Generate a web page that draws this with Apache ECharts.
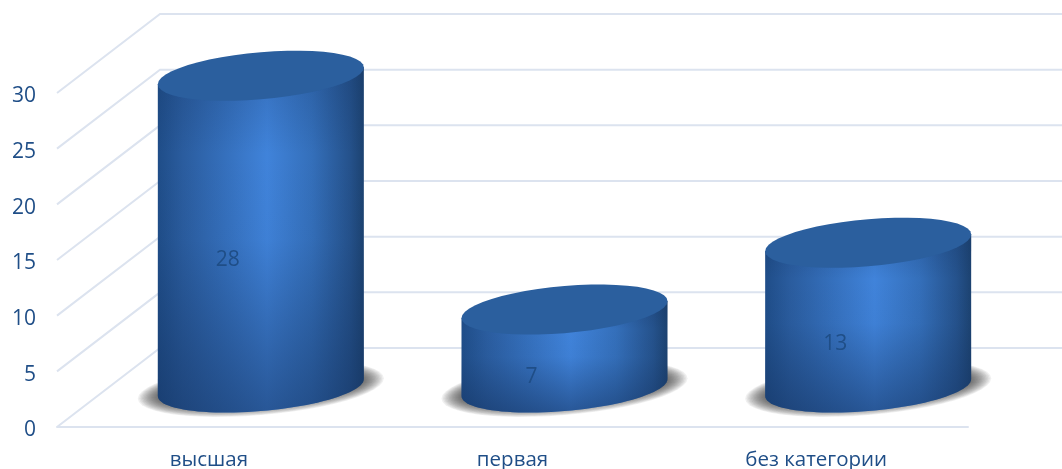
<!DOCTYPE html>
<html><head><meta charset="utf-8">
<style>html,body{margin:0;padding:0;background:#fff}#c{width:1062px;height:469px}</style>
<script src="https://cdn.jsdelivr.net/npm/echarts@6/dist/echarts.min.js"></script>
</head><body><div id="c"></div>
<script>
const categories = ['высшая', 'первая', 'без категории'];
const values = [28, 7, 13];
const yTicks = [0, 5, 10, 15, 20, 25, 30];

const FONT = '"Open Sans", sans-serif';
const TEXT = '#1f4e87';
const GRID = '#dce3ef';
const DEPTH_X = 103, DEPTH_Y = 79;   // oblique depth of the chart box
const A = 103, B = 23.6, TILT = 8.5; // cylinder ellipse
const N = 48;

function arc(cx, cy, a, b, t0, t1) {
  const pts = [];
  for (let i = 0; i <= N; i++) {
    const t = t0 + (t1 - t0) * i / N;
    const ax = a * Math.cos(t);
    pts.push([cx + ax, cy - TILT * (a / A) * Math.cos(t) + b * Math.sin(t)]);
  }
  return pts;
}

function renderGrid(params, api) {
  const v = api.value(0);
  const cs = params.coordSys;
  const y = api.coord([0, v])[1];
  return {
    type: 'polyline',
    shape: { points: [[cs.x, y], [cs.x + DEPTH_X, y - DEPTH_Y], [1070, y - DEPTH_Y]] },
    style: { stroke: GRID, lineWidth: 2, fill: null },
    silent: true
  };
}

function renderCyl(params, api) {
  const i = api.value(0), v = api.value(1);
  const base = api.coord([i, 0]), top = api.coord([i, v]);
  const cx = base[0] + DEPTH_X / 2 + 0.5;
  const by = base[1] - DEPTH_Y / 2;
  const ty = top[1] - DEPTH_Y / 2;
  const body = [...arc(cx, ty, A, B, Math.PI, Math.PI), ...arc(cx, ty, A, B, 0, 0), ...arc(cx, by, A, B, 0, Math.PI)];
  const topEll = arc(cx, ty, A, B, 0, Math.PI * 2);
  const shadows = [];
  for (let k = 0; k < 14; k++) {
    shadows.push({ type: 'polygon',
      shape: { points: arc(cx, by + 1, A + 20 - k * 1.45, B + 3 - k * 0.7, 0, Math.PI * 2) },
      style: { fill: 'rgba(50,50,50,0.075)' } });
  }
  return {
    type: 'group',
    children: [
      ...shadows,
      { type: 'polygon', shape: { points: body },
        style: { fill: { type: 'linear', x: 0, y: 0, x2: 1, y2: 0, colorStops: [
          { offset: 0, color: '#1f4d88' }, { offset: 0.12, color: '#2a5c9e' },
          { offset: 0.33, color: '#3570bd' }, { offset: 0.53, color: '#4083da' },
          { offset: 0.75, color: '#346fba' }, { offset: 0.93, color: '#25528c' },
          { offset: 1, color: '#1c4270' } ] } } },
      { type: 'polygon', shape: { points: body },
        style: { fill: { type: 'linear', x: 0, y: 0, x2: 0, y2: 1, colorStops: [
          { offset: 0, color: 'rgba(20,50,95,0.25)' }, { offset: 0.25, color: 'rgba(20,50,95,0)' },
          { offset: 0.5, color: 'rgba(20,50,95,0.04)' }, { offset: 1, color: 'rgba(20,50,95,0.55)' } ] } } },
      { type: 'polygon', shape: { points: topEll }, style: { fill: '#2b5f9e' } },
      { type: 'text', style: {
          text: String(v), x: base[0] + 19, y: (base[1] + top[1]) / 2 - 11,
          fill: TEXT, font: '21px ' + FONT, align: 'center', verticalAlign: 'middle' } }
    ]
  };
}

const chart = echarts.init(document.getElementById('c'), null, { renderer: 'canvas' });
chart.setOption({
  animation: false,
  backgroundColor: '#fff',
  grid: { left: 57, right: 94, top: 93, bottom: 42, outerBoundsMode: 'none' },
  xAxis: {
    type: 'category', data: categories,
    axisLine: { show: true, lineStyle: { color: GRID, width: 2 } },
    axisTick: { show: false },
    axisLabel: { color: TEXT, fontFamily: FONT, fontSize: 20.5, margin: 23 }
  },
  yAxis: {
    type: 'value', min: 0, max: 30, interval: 5,
    axisLine: { show: false }, axisTick: { show: false }, splitLine: { show: false },
    axisLabel: { color: TEXT, fontFamily: FONT, fontSize: 21, margin: 21, verticalAlign: 'top', lineHeight: 7 }
  },
  series: [
    { type: 'custom', renderItem: renderGrid, data: yTicks.map(v => [v]), encode: { y: 0 }, z: 1, silent: true },
    { type: 'custom', renderItem: renderCyl, data: values.map((v, i) => [i, v]), encode: { x: 0, y: 1 }, z: 2, silent: true }
  ]
});
</script></body></html>
